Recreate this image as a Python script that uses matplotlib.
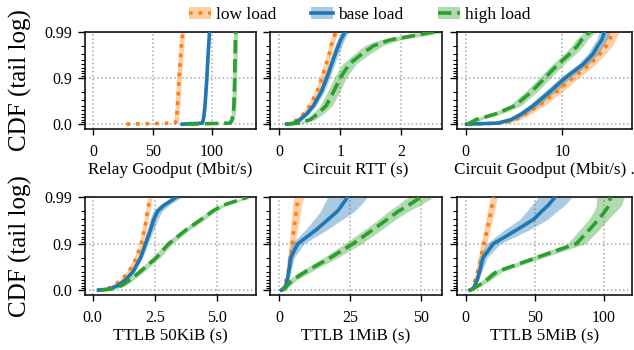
import numpy as np
import matplotlib
matplotlib.use('Agg')
import matplotlib.pyplot as plt
from matplotlib.patches import Patch
from matplotlib.lines import Line2D
from matplotlib.ticker import FixedLocator, NullFormatter

plt.rcParams['font.family'] = ['Liberation Serif', 'DejaVu Serif']

# CDF probability levels shared by every curve
P = [0, 0.05, 0.2, 0.4, 0.6, 0.8, 0.9, 0.95, 0.97, 0.98, 0.985, 0.99]
loads = ['low load', 'base load', 'high load']

# ---- Relay Goodput (Mbit/s)
relay_low = [28, 69, 70, 70.5, 71, 71.8, 72.3, 73.2, 73.8, 74.3, 74.8, 75.4]
relay_base = [75, 92, 92.8, 93.5, 94.2, 95, 95.8, 96.4, 96.9, 97.3, 97.6, 98]
relay_high = [78, 115.5, 117, 118, 118.6, 119, 119.3, 119.5, 119.7, 119.8, 119.9, 120]
relay_w = [2.0, 1.0, 1.8]

# ---- Circuit RTT (s)
rtt_low = [0.10, 0.21, 0.29, 0.40, 0.50, 0.62, 0.70, 0.77, 0.82, 0.85, 0.88, 0.93]
rtt_base = [0.12, 0.25, 0.34, 0.45, 0.56, 0.69, 0.78, 0.86, 0.92, 0.97, 1.01, 1.08]
rtt_high = [0.12, 0.32, 0.51, 0.63, 0.77, 0.89, 1.00, 1.15, 1.36, 1.55, 1.82, 2.56]
rtt_w = [0.04,
         [0.03, 0.035, 0.04, 0.04, 0.045, 0.045, 0.05, 0.05, 0.055, 0.06, 0.06, 0.06],
         [0.03, 0.06, 0.08, 0.09, 0.10, 0.10, 0.10, 0.11, 0.13, 0.15, 0.17, 0.20]]

# ---- Circuit Goodput (Mbit/s)
cgood_low = [0.3, 3.9, 5.1, 6.2, 7.5, 9.4, 11.1, 12.9, 13.9, 14.6, 14.9, 15.3]
cgood_base = [0.1, 3.3, 4.7, 5.8, 7.0, 8.7, 10.3, 12.2, 13.2, 13.7, 14.1, 14.4]
cgood_high = [0.1, 0.45, 1.05, 3.1, 5.1, 6.8, 8.2, 9.6, 10.8, 11.6, 12.0, 12.9]
cgood_w = [0.6, 0.55, 0.6]

# ---- TTLB 50KiB (s)
t50k_low = [0.23, 0.55, 0.85, 1.15, 1.45, 1.75, 1.95, 2.07, 2.15, 2.20, 2.24, 2.30]
t50k_base = [0.23, 0.65, 1.0, 1.32, 1.62, 1.92, 2.12, 2.32, 2.45, 2.60, 2.85, 3.35]
t50k_high = [0.30, 0.75, 1.15, 1.50, 1.90, 2.55, 3.05, 3.75, 4.35, 4.80, 5.20, 6.2]
t50k_w = [0.09, [0.05, 0.05, 0.06, 0.06, 0.07, 0.08, 0.10, 0.13, 0.16, 0.18, 0.2, 0.2], 0.15]

# ---- TTLB 1MiB (s)
t1m_low = [0.7, 1.2, 1.8, 2.4, 3.1, 3.9, 4.5, 5.1, 5.6, 6.0, 6.2, 6.8]
t1m_base = [0.7, 1.3, 2.2, 2.8, 3.3, 4.0, 6.5, 13.0, 17.2, 20.5, 22.0, 24.0]
t1m_high = [0.9, 1.8, 2.7, 4.7, 9.2, 18, 26, 33, 38, 42, 45.5, 49.8]
t1m_w = [[0.2, 0.3, 0.4, 0.5, 0.7, 0.9, 1.0, 1.2, 1.4, 1.5, 1.6, 1.7],
         [0.2, 0.3, 0.4, 0.5, 0.7, 1.2, 2.2, 3.8, 5.0, 6.0, 6.5, 7.0],
         [0.3, 0.6, 1.0, 1.5, 2.0, 2.5, 3.0, 3.0, 3.0, 3.5, 4.0, 4.5]]

# ---- TTLB 5MiB (s)
t5m_low = [3, 4.5, 5.5, 6.8, 8.5, 11, 13, 15.5, 17, 18.3, 19, 20.3]
t5m_base = [3, 5.0, 6.5, 8.3, 10, 12.5, 20, 37, 49, 55, 59.5, 64.5]
t5m_high = [3, 5, 9.2, 15.2, 22.4, 51, 80, 89.4, 96, 100.7, 103.5, 104.5]
t5m_w = [[0.5, 0.8, 1.0, 1.2, 1.5, 1.8, 2.0, 2.2, 2.4, 2.5, 2.5, 2.5],
         [0.3, 0.5, 0.8, 1.0, 1.5, 3.0, 5.0, 9.0, 10, 11, 12, 12],
         [0.5, 1.0, 2.0, 3.0, 4.0, 5.0, 6.5, 7.0, 7.0, 8.0, 9.0, 10.0]]

panels = [
    ("Relay Goodput (Mbit/s)", [relay_low, relay_base, relay_high], relay_w, [0, 50, 100], ["0", "50", "100"], (-7, 137)),
    ("Circuit RTT (s)", [rtt_low, rtt_base, rtt_high], rtt_w, [0, 1, 2], ["0", "1", "2"], (-0.16, 2.67)),
    ("Circuit Goodput (Mbit/s) .", [cgood_low, cgood_base, cgood_high], cgood_w, [0, 10], ["0", "10"], (-0.87, 17.2)),
    ("TTLB 50KiB (s)", [t50k_low, t50k_base, t50k_high], t50k_w, [0, 2.5, 5.0], ["0.0", "2.5", "5.0"], (-0.31, 6.54)),
    ("TTLB 1MiB (s)", [t1m_low, t1m_base, t1m_high], t1m_w, [0, 25, 50], ["0", "25", "50"], (-3.5, 57.4)),
    ("TTLB 5MiB (s)", [t5m_low, t5m_base, t5m_high], t5m_w, [0, 50, 100], ["0", "50", "100"], (-6.1, 120)),
]

colors = ['#ff7f0e', '#1f77b4', '#2ca02c']
styles = [':', '-', '--']

def fwd(p):
    p = np.asarray(p, dtype=float)
    return -np.log10(np.clip(1 - p, 1e-9, None))

def inv(t):
    t = np.asarray(t, dtype=float)
    return 1 - 10 ** (-t)

W, H = 634, 350
fig = plt.figure(figsize=(W / 100, H / 100), dpi=100)

cols = [(85, 255.7), (269.5, 442), (457.3, 631.7)]
rows = [(31.7, 129), (197.3, 295)]

ylo = inv(-0.105)
major_y = [0.0, 0.9, 0.99]
minor_y = [0.1, 0.2, 0.3, 0.4, 0.5, 0.6, 0.7, 0.8,
           0.91, 0.92, 0.93, 0.94, 0.95, 0.96, 0.97, 0.98]

for i, (xlabel, series, widths, xt, xtl, xlim) in enumerate(panels):
    r, c = divmod(i, 3)
    x0, x1 = cols[c]
    yt, yb = rows[r]
    ax = fig.add_axes([x0 / W, 1 - yb / H, (x1 - x0) / W, (yb - yt) / H])
    ax.set_yscale('function', functions=(fwd, inv))
    for k in range(3):
        x = np.asarray(series[k], dtype=float)
        w = np.asarray(widths[k], dtype=float) * np.ones_like(x)
        ax.fill_betweenx(P, x - w, x + w, color=colors[k], alpha=0.38, lw=0, zorder=2)
    for k in range(3):
        ax.plot(series[k], P, color=colors[k], ls=styles[k], lw=2.6, zorder=3 + k)
    ax.set_ylim(ylo, 0.99)
    ax.set_xlim(*xlim)
    ax.set_xticks(xt)
    ax.set_xticklabels(xtl)
    ax.yaxis.set_major_locator(FixedLocator(major_y))
    ax.yaxis.set_minor_locator(FixedLocator(minor_y))
    ax.yaxis.set_minor_formatter(NullFormatter())
    if c == 0:
        ax.set_yticklabels(["0.0", "0.9", "0.99"])
        ax.set_ylabel("CDF (tail log)", fontsize=18)
        ax.yaxis.set_label_coords(-0.31, 0.5)
    else:
        ax.set_yticklabels([])
    ax.grid(True, which='major', ls=':', color='#a8a8a8', lw=1.1, zorder=0)
    ax.tick_params(axis='y', which='major', direction='out', length=5, width=1, labelsize=11.5, pad=4)
    ax.tick_params(axis='x', which='major', direction='out', length=4.5, width=1, labelsize=11.5, pad=6.5)
    ax.tick_params(axis='y', which='minor', direction='out', length=3, width=0.8)
    ax.set_xlabel(xlabel, fontsize=12.3, labelpad=1.5)
    for s in ax.spines.values():
        s.set_linewidth(1.1)

handles = [(Patch(facecolor=colors[k], alpha=0.38, lw=0),
            Line2D([], [], color=colors[k], ls=styles[k], lw=2.6)) for k in range(3)]
fig.legend(handles, loads, loc='center', bbox_to_anchor=(0.567, 0.958), ncol=3,
           frameon=False, fontsize=12.5, handlelength=1.3, handletextpad=0.25,
           columnspacing=2.0, borderpad=0.1)

fig.savefig('out.png', dpi=100)
